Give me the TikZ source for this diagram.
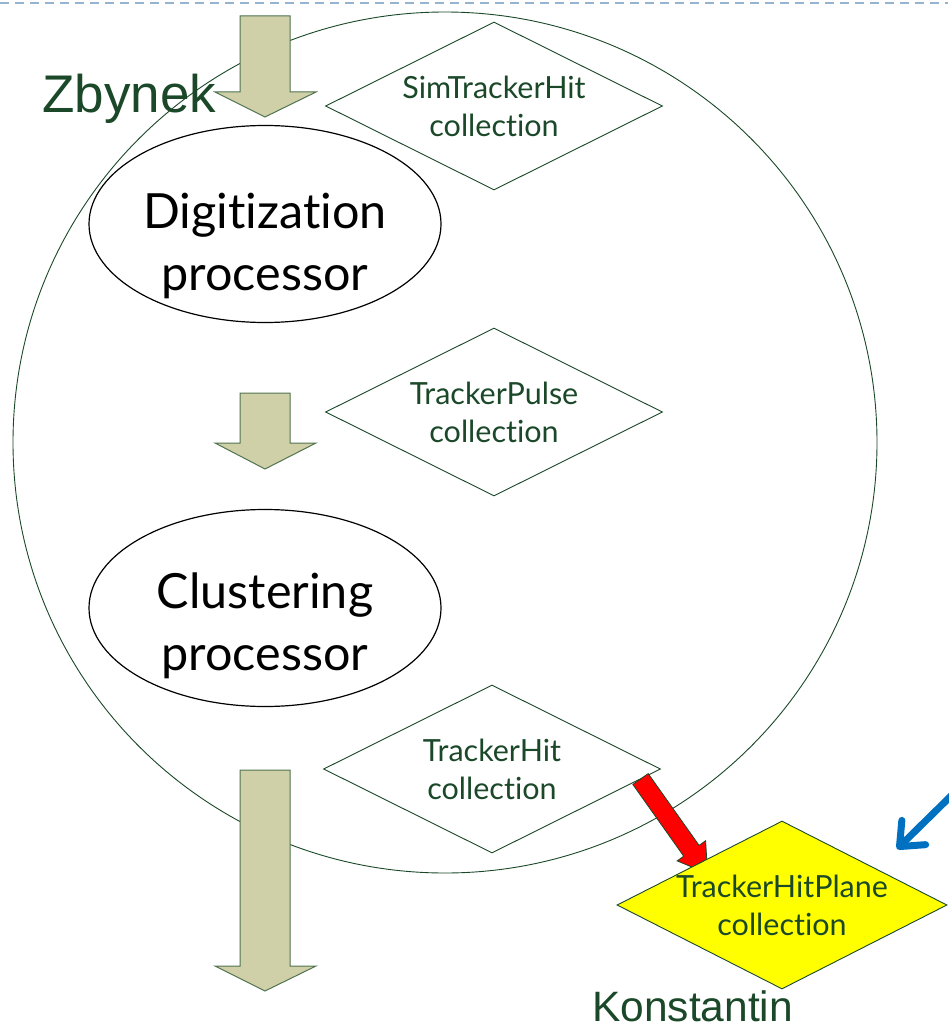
\documentclass[tikz,border=0pt]{standalone}
\usepackage{fontspec}
\setmainfont[Ligatures={NoCommon}]{Lato}
\newfontfamily\arialf{Liberation Sans}
\usetikzlibrary{shapes.geometric,arrows.meta}
\definecolor{dkgreen}{RGB}{26,72,40}
\definecolor{arrfill}{RGB}{208,208,168}
\definecolor{arredge}{RGB}{80,115,80}
\definecolor{dashblue}{RGB}{150,180,205}
\definecolor{bluearr}{RGB}{0,112,192}
\definecolor{hlyellow}{RGB}{255,255,0}
\definecolor{redarr}{RGB}{255,0,0}
\begin{document}
\begin{tikzpicture}[x=1pt,y=-1pt,
 collbox/.style={diamond, draw=dkgreen, line width=0.9pt, fill=white, minimum width=337pt, minimum height=168pt, inner sep=0pt},
 colltext/.style={text=dkgreen, font=\fontsize{30.5}{38}\selectfont, align=center, inner sep=0pt},
 procbox/.style={ellipse, draw=black, line width=1.2pt, fill=white, minimum width=352pt, minimum height=197pt, inner sep=0pt},
 proctext/.style={text=black, font=\fontsize{48.5}{62}\selectfont, align=center, inner sep=0pt},
 flowarrow/.style={fill=arrfill, draw=arredge, line width=1pt, line join=miter},
 person/.style={text=dkgreen, inner sep=0pt, anchor=base west},
]
\useasboundingbox (0,0) rectangle (948,1030);
% top dashed rule
\coordinate (ruleL) at (0,3);
\coordinate (ruleR) at (948,3);
\draw[dashblue, line width=1.5pt, dash pattern=on 9pt off 6pt] (ruleL) -- (ruleR);
% big loop circle
\node[ellipse, draw=dkgreen, line width=0.9pt, minimum width=864pt, minimum height=861pt, inner sep=0pt] (loop) at (445,442.5) {};
% flow arrows
\draw[flowarrow] (240,16) -- (290,16) -- (290,92) -- (316,92) -- (265,117) -- (215,92) -- (240,92) -- cycle;
\draw[flowarrow] (240,393) -- (290,393) -- (290,443) -- (316,443) -- (265,469) -- (215,443) -- (240,443) -- cycle;
\draw[flowarrow] (240,770) -- (290,770) -- (290,966) -- (316,966) -- (265,991) -- (215,966) -- (240,966) -- cycle;
% processors
\node[procbox] (dig) at (265,224) {};
\node[proctext] (digt) at (265,246) {Digitization\\processor};
\node[procbox] (clu) at (265,608) {};
\node[proctext] (clut) at (265,626) {Clustering\\processor};
% collections
\node[collbox] (sim) at (494,106) {};
\node[colltext] (simt) at (sim.center) {SimTrackerHit\\collection};
\node[collbox] (pulse) at (494,412) {};
\node[colltext] (pulset) at (pulse.center) {TrackerPulse\\collection};
\node[collbox] (hit) at (492,769) {};
\node[colltext] (hitt) at (hit.center) {TrackerHit\\collection};
% red arrow
\draw[fill=redarr, draw=dkgreen, line width=0.8pt, line join=miter]
  (648.2,773.6) -- (699.1,845.4) -- (705.6,840.7) -- (707.6,873.6) -- (677.2,860.9) -- (683.7,856.2) -- (632.8,784.4) -- cycle;
% plane collection
\node[collbox, fill=hlyellow, minimum width=330pt] (plane) at (782,905) {};
\node[colltext] (planet) at (plane.center) {TrackerHitPlane\\collection};
% blue pointer
\coordinate (bstart) at (956,791);
\coordinate (btip) at (897,849);
\draw[bluearr, line width=7pt, line cap=round, -{Straight Barb[length=20pt, width=34pt, round]}] (bstart) -- (btip);
% names
\node[person, font=\arialf\fontsize{53}{60}\selectfont] (zb) at (42,113) {Zbynek};
\node[person, font=\arialf\fontsize{42.5}{50}\selectfont] (ko) at (592,1021) {Konstantin};
\end{tikzpicture}
\end{document}
